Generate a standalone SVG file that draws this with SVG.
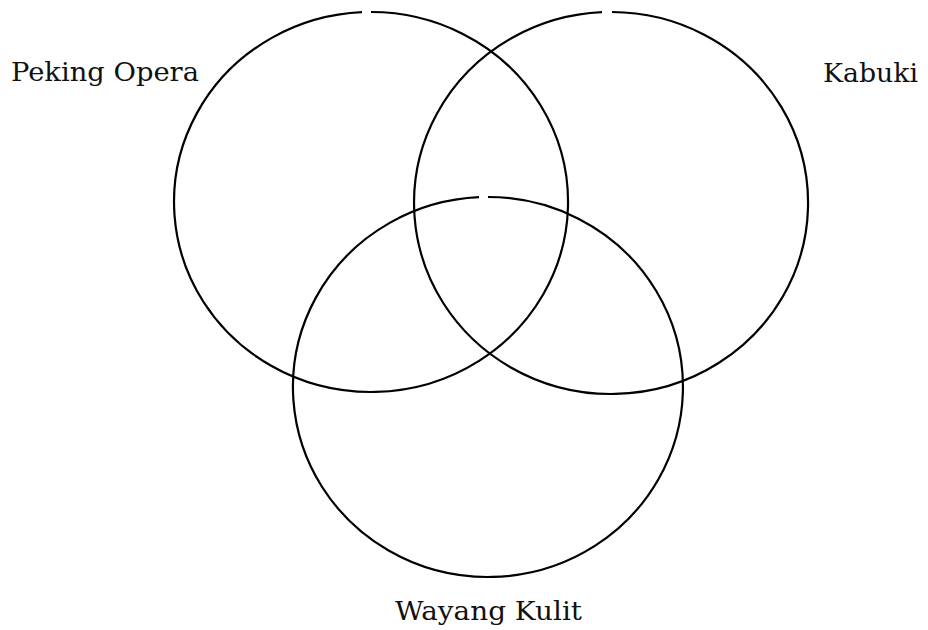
<svg xmlns="http://www.w3.org/2000/svg" width="928" height="630" viewBox="0 0 928 630">
<style>
.c{fill:none;stroke:#000;stroke-width:2.2}
.t{font-family:"DejaVu Serif","Liberation Serif",serif;font-size:26px;fill:#111;lengthAdjust:spacingAndGlyphs}
</style>
<rect width="928" height="630" fill="#fff"/>
<g id="peking">
<path class="c" d="M371,12 A197,190 0 1 1 362,12.2"/>
<text class="t" x="11" y="81" textLength="188" lengthAdjust="spacingAndGlyphs">Peking Opera</text>
</g>
<g id="kabuki">
<path class="c" d="M612,12 A197,191 0 1 1 602,12.2"/>
<text class="t" x="823" y="82" textLength="95" lengthAdjust="spacingAndGlyphs">Kabuki</text>
</g>
<g id="wayang">
<path class="c" d="M488,197 A195,190 0 1 1 479,197.2"/>
<text class="t" x="395" y="620" textLength="187" lengthAdjust="spacingAndGlyphs">Wayang Kulit</text>
</g>
<g id="connectors"></g>
</svg>
